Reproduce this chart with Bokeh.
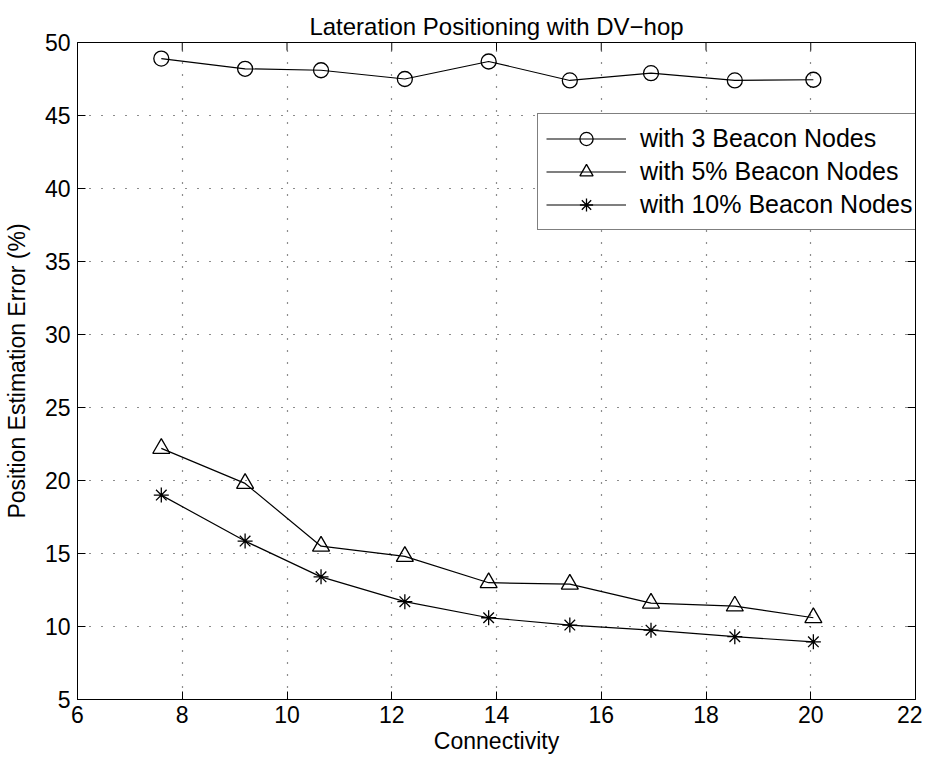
import math
from bokeh.plotting import figure
from bokeh.models import FixedTicker, Range1d, Legend, LegendItem
from bokeh.embed import file_html
from bokeh.resources import INLINE

connectivity = [7.6, 9.2, 10.65, 12.25, 13.85, 15.4, 16.95, 18.55, 20.05]
err_3_beacons = [48.9, 48.2, 48.1, 47.5, 48.7, 47.4, 47.9, 47.4, 47.45]
err_5pct_beacons = [22.2, 19.8, 15.5, 14.8, 13.0, 12.9, 11.6, 11.4, 10.6]
err_10pct_beacons = [19.0, 15.85, 13.4, 11.7, 10.6, 10.1, 9.75, 9.3, 8.95]

x_ticks = [6, 8, 10, 12, 14, 16, 18, 20, 22]
y_ticks = [5, 10, 15, 20, 25, 30, 35, 40, 45, 50]

FONT = "Liberation Sans"

p = figure(width=922, height=759, output_backend="svg", toolbar_location=None,
           x_range=Range1d(x_ticks[0], x_ticks[-1]), y_range=Range1d(y_ticks[0], y_ticks[-1]),
           min_border_left=75, min_border_right=7, min_border_top=42, min_border_bottom=60,
           title="Lateration Positioning with DV\u2212hop")

p.title.align = "center"
p.title.text_font = FONT
p.title.text_font_size = "24px"
p.title.text_font_style = "normal"
p.title.text_color = "black"
p.title.standoff = 6

p.outline_line_color = "black"
p.outline_line_width = 1
p.background_fill_color = "white"
p.border_fill_color = "white"

for ax in [p.xaxis[0], p.yaxis[0]]:
    ax.axis_line_color = "black"
    ax.major_tick_line_color = "black"
    ax.major_tick_in = 8
    ax.major_tick_out = 0
    ax.minor_tick_line_color = None
    ax.major_label_text_font = FONT
    ax.major_label_text_font_size = "23px"
    ax.major_label_text_color = "black"
    ax.axis_label_text_font = FONT
    ax.axis_label_text_font_size = "23px"
    ax.axis_label_text_font_style = "normal"
    ax.axis_label_text_color = "black"

p.xaxis[0].ticker = FixedTicker(ticks=x_ticks)
p.yaxis[0].ticker = FixedTicker(ticks=y_ticks)
p.xaxis[0].axis_label = "Connectivity"
p.yaxis[0].axis_label = "Position Estimation Error (%)"
p.xaxis[0].major_label_standoff = 6
p.xaxis[0].axis_label_standoff = 2
p.yaxis[0].major_label_standoff = 7
p.yaxis[0].axis_label_standoff = 12

# inward tick marks on the top and right edges of the box (clipped to the frame)
p.scatter(x=x_ticks, y=[y_ticks[-1]] * len(x_ticks), marker="dash", angle=math.pi / 2,
          size=16, line_color="black", line_width=1)
p.scatter(x=[x_ticks[-1]] * len(y_ticks), y=y_ticks, marker="dash",
          size=16, line_color="black", line_width=1)

p.xgrid.ticker = FixedTicker(ticks=x_ticks)
p.ygrid.ticker = FixedTicker(ticks=y_ticks)
for g in [p.xgrid[0], p.ygrid[0]]:
    g.grid_line_color = "black"
    g.grid_line_dash = "1 11"
    g.grid_line_width = 1.2
    g.grid_line_alpha = 0.9

l1 = p.line(connectivity, err_3_beacons, line_color="black", line_width=1.2)
m1 = p.scatter(connectivity, err_3_beacons, marker="circle", size=15,
               line_color="black", fill_color=None, line_width=1.3)
l2 = p.line(connectivity, err_5pct_beacons, line_color="black", line_width=1.2)
m2 = p.scatter(connectivity, err_5pct_beacons, marker="triangle", size=17,
               line_color="black", fill_color=None, line_width=1.3)
l3 = p.line(connectivity, err_10pct_beacons, line_color="black", line_width=1.2)
m3 = p.scatter(connectivity, err_10pct_beacons, marker="asterisk", size=15,
               line_color="black", line_width=1.3)

legend = Legend(items=[
    LegendItem(label="with 3 Beacon Nodes", renderers=[l1, m1]),
    LegendItem(label="with 5% Beacon Nodes", renderers=[l2, m2]),
    LegendItem(label="with 10% Beacon Nodes", renderers=[l3, m3]),
], location=(460, 469))
legend.label_text_font = FONT
legend.label_text_font_size = "25px"
legend.label_text_color = "black"
legend.glyph_width = 80
legend.glyph_height = 33
legend.label_height = 33
legend.label_standoff = 14
legend.padding = 8
legend.margin = 0
legend.spacing = 0
legend.border_line_color = "black"
legend.border_line_width = 1
legend.background_fill_color = "white"
legend.background_fill_alpha = 1
p.add_layout(legend, "center")

open("out.html", "w").write(file_html(p, INLINE))
